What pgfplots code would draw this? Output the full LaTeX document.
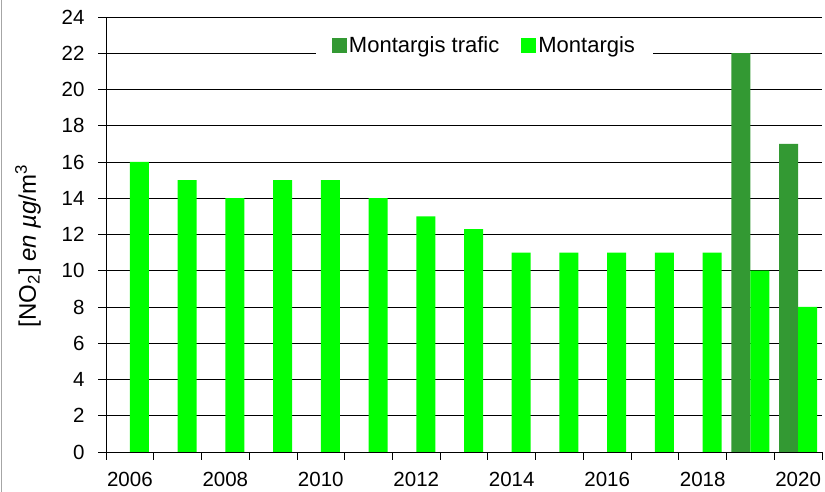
\documentclass[border=0pt]{standalone}
\usepackage{fontspec}
\setmainfont{Liberation Sans}
\usepackage{pgfplots}
\pgfplotsset{compat=1.18}
\definecolor{dgreen}{RGB}{51,153,51}
\definecolor{lgreen}{RGB}{0,255,0}
\begin{document}
\begin{tikzpicture}
\useasboundingbox (-106pt,-40pt) rectangle (719pt,452pt);
\draw[gray!70, line width=1pt] (-104.5pt,-40pt) -- (-104.5pt,452pt);
\begin{axis}[
 at={(0pt,0pt)}, anchor=south west, scale only axis, width=716pt, height=435pt,
 xmin=-0.5, xmax=14.5, ymin=0, ymax=24,
 axis x line*=bottom, axis y line*=left,
 axis line style={-, black, line width=0.8pt},
 ytick={0,2,...,24}, ymajorgrids, grid style={black, line width=0.8pt},
 xtick={-0.5,0.5,...,14.5}, xticklabels={},
 extra x ticks={0,2,...,14},
 extra x tick labels={2006,2008,2010,2012,2014,2016,2018,2020},
 extra x tick style={tick style={draw=none}, grid=none},
 tick align=outside, major tick length=8pt, tick style={black, line width=0.8pt},
 ticklabel style={font=\fontsize{20.5}{24}\selectfont},
 yticklabel style={xshift=-10pt},
 xticklabel style={yshift=-9pt},
 /pgf/number format/assume math mode=true,
 ylabel={[NO\textsubscript{2}] \textit{en µg}/m\textsuperscript{3}},
 ylabel style={at={(axis description cs:-0.109,0.4736)}, anchor=center, font=\fontsize{24}{28}\selectfont},
 legend style={at={(0.5286,0.9356)}, anchor=center, draw=none, fill=white,
   legend columns=2, font=\fontsize{22}{26}\selectfont,
   /tikz/every even column/.append style={column sep=20pt}, inner xsep=16pt, inner ysep=4pt},
 legend image code/.code={\fill[#1,draw=none] (0pt,-7.5pt) rectangle (15pt,7.5pt);},
]
\addplot[ybar, bar width=19pt, bar shift=-9.5pt, fill=dgreen, draw=none]
 coordinates {(13,22) (14,17)};
\addlegendentry{Montargis trafic}
\addplot[ybar, bar width=19pt, bar shift=9.5pt, fill=lgreen, draw=none]
 coordinates {(0,16) (1,15) (2,14) (3,15) (4,15) (5,14) (6,13) (7,12.3) (8,11) (9,11) (10,11) (11,11) (12,11) (13,10) (14,8)};
\addlegendentry{Montargis}
\end{axis}
\end{tikzpicture}
\end{document}
